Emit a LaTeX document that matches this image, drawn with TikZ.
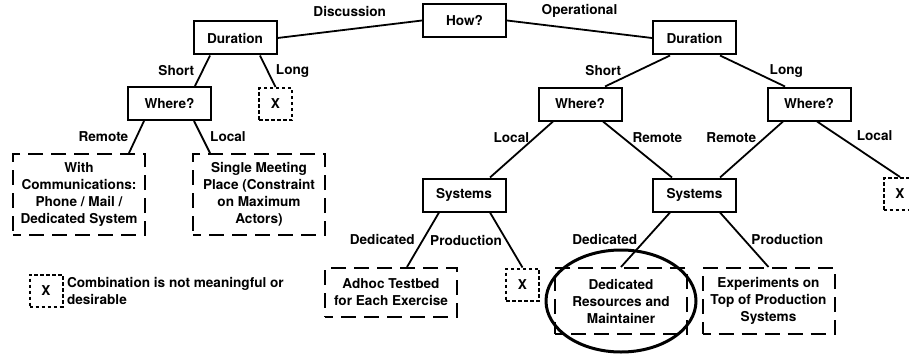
\documentclass[tikz,border=0pt]{standalone}
\usepackage{fontspec}
\setmainfont{TeX Gyre Heros}
\begin{document}
\begin{tikzpicture}[x=1pt,y=-1pt,
		every node/.style={font=\bfseries\fontsize{13.6}{17}\selectfont},
		qbox/.style={draw,line width=2pt,minimum width=83pt,minimum height=33pt},
		leaf/.style={draw,line width=2pt,dash pattern=on 15pt off 8pt,dash phase=7pt,minimum width=132pt,align=center},
		xbox/.style={draw,line width=2pt,dash pattern=on 3.5pt off 2.5pt,minimum width=33pt,minimum height=32pt},
		branch/.style={line width=1.8pt}]
		\useasboundingbox (0,0) rectangle (909,353);
		\clip (0,0) rectangle (909,353);

		\node[qbox] (how) at (464.5,20.5) {How?};
		\node[qbox] (durL) at (235,38) {Duration};
		\node[qbox] (durR) at (694.5,38) {Duration};
		\node[qbox] (whereL) at (169.5,103.5) {Where?};
		\node[xbox] (xL) at (275.5,104) {X};
		\node[qbox] (whereS) at (580,104) {Where?};
		\node[qbox] (whereLg) at (809,104) {Where?};

		\node[leaf,minimum height=81pt] (remote) at (79,194.5) {With\\Communications:\\Phone / Mail /\\Dedicated System};
		\node[leaf,minimum height=81pt] (meeting) at (259,194.5) {Single Meeting\\Place (Constraint\\on Maximum\\Actors)};
		\node[qbox] (sysL) at (464,195) {Systems};
		\node[qbox] (sysR) at (694.5,195) {Systems};
		\node[xbox] (xR) at (900,194) {X};

		\node[leaf,minimum height=49pt] (adhoc) at (391,292.5) {Adhoc Testbed\\for Each Exercise};
		\node[xbox] (xP) at (522.5,284.5) {X};
		\node[leaf,minimum height=66pt] (dedic) at (621,301) {Dedicated\\Resources and\\Maintainer};
		\node[leaf,minimum height=66pt] (exper) at (768.5,301) {Experiments on\\Top of Production\\Systems};
		\draw[line width=3pt] (dedic.center) ellipse [x radius=75pt,y radius=51pt];

		\node[xbox] (xKey) at (46,290.5) {X};
		\node[anchor=west,align=left] (keyText) at (xKey.east) {Combination is not meaningful or\\desirable};

		\draw[branch] (how.west) -- node[above=8pt] {Discussion} (durL.east);
		\draw[branch] (how.east) -- node[above=8pt] {Operational} (durR.west);
		\draw[branch] ([xshift=-25pt]durL.south) -- node[left=4pt] {Short} ([xshift=25.5pt]whereL.north);
		\draw[branch] ([xshift=25pt]durL.south) -- node[right=4pt] {Long} (xL.north);
		\draw[branch] ([xshift=-25.5pt]whereL.south) -- node[left=4pt] {Remote} ([xshift=50pt]remote.north);
		\draw[branch] ([xshift=24.5pt]whereL.south) -- node[right=4pt] {Local} ([xshift=-49pt]meeting.north);
		\draw[branch] ([xshift=-24.5pt]durR.south) -- node[left=12pt] {Short} ([xshift=25pt]whereS.north);
		\draw[branch] ([xshift=25.5pt]durR.south) -- node[right=13pt] {Long} ([xshift=-24pt]whereLg.north);
		\draw[branch] ([xshift=-27pt]whereS.south) -- node[pos=.28,left=2pt] {Local} ([xshift=26pt]sysL.north);
		\draw[branch] ([xshift=23pt]whereS.south) -- node[pos=.28,right=6pt] {Remote} ([xshift=-22.5pt]sysR.north);
		\draw[branch] ([xshift=-26pt]whereLg.south) -- node[pos=.28,left=5pt] {Remote} ([xshift=25.5pt]sysR.north);
		\draw[branch] ([xshift=8pt]whereLg.south) -- node[pos=.26,right=14pt] {Local} (xR.north);
		\draw[branch] ([xshift=-25pt]sysL.south) -- node[left=4pt] {Dedicated} ([xshift=16pt]adhoc.north);
		\draw[branch] ([xshift=26pt]sysL.south) -- node[left] {Production} (xP.north);
		\draw[branch] ([xshift=-24.5pt]sysR.south) -- node[left=4pt] {Dedicated} (dedic.north);
		\draw[branch] ([xshift=25.5pt]sysR.south) -- node[right=3pt] {Production} (exper.north);
\end{tikzpicture}
\end{document}
